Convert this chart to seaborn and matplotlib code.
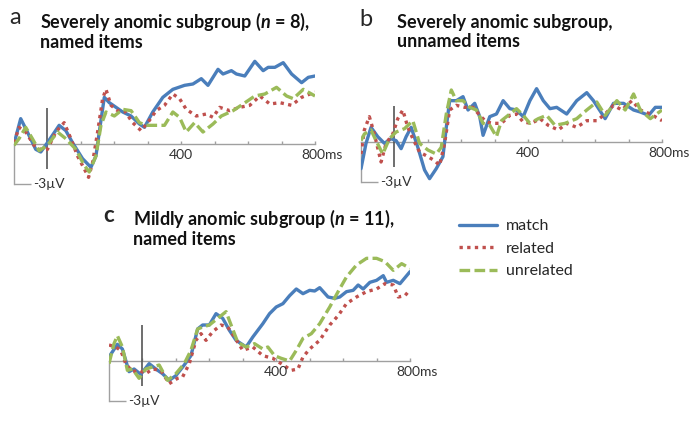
import matplotlib
matplotlib.use("Agg")
import matplotlib.pyplot as plt
import seaborn as sns
import pandas as pd

# ---- data (µV) ----
conditions = ["match", "related", "unrelated"]
palette = {"match": "#4a7ebb", "related": "#c0504d", "unrelated": "#9bbb59"}

# panel a: severely anomic, named items
a_match_t = [-100, -80, -60, -35, -20, 0, 35, 55, 75, 105, 130, 145, 155, 170, 185, 205, 225, 250, 275, 290,
             315, 345, 375, 410, 435, 460, 480, 510, 525, 550, 565, 590, 620, 645, 660, 680, 705, 730, 760, 780, 800]
a_match_v = [0.0, 1.9, 0.9, -0.4, -0.6, 0.1, 1.4, 1.0, 0.1, -1.1, -1.75, -0.9, 0.9, 3.5, 3.1, 2.75, 2.4, 2.1, 1.5, 1.25,
             2.4, 3.5, 4.1, 4.4, 4.5, 4.9, 4.4, 5.6, 5.25, 5.5, 5.25, 5.1, 6.2, 5.5, 5.75, 5.75, 6.1, 5.25, 4.6, 5.0, 5.1]
a_related_t = [-100, -85, -65, -40, -15, 0, 25, 50, 70, 90, 115, 123, 135, 150, 165, 175, 190, 210, 230, 255,
               280, 300, 325, 350, 375, 395, 415, 445, 475, 495, 515, 545, 575, 605, 635, 665, 695, 730, 760, 800]
a_related_v = [0.1, 1.25, 0.9, -0.1, -0.5, -0.4, 0.9, 1.6, 0.4, -0.9, -2.1, -2.5, -1.4, 0.9, 3.4, 4.1, 2.9, 2.5, 2.5, 1.6,
               1.0, 1.6, 2.5, 2.9, 3.75, 3.4, 2.6, 2.1, 2.25, 2.0, 2.75, 2.5, 2.75, 2.9, 3.6, 3.0, 3.1, 2.9, 3.5, 3.9]
a_unrel_t = [-100, -85, -65, -45, -25, 0, 30, 55, 85, 110, 125, 145, 160, 175, 200, 225, 250, 275, 295, 325,
             350, 375, 395, 415, 440, 465, 495, 520, 555, 585, 620, 650, 685, 715, 735, 765, 800]
a_unrel_v = [-0.1, 0.4, 1.25, 0.4, -0.5, -0.1, 0.9, 0.4, -0.4, -1.6, -2.1, -0.9, 1.4, 2.4, 2.1, 2.6, 2.5, 1.6, 1.4, 1.4,
             1.4, 2.4, 2.0, 0.9, 1.6, 0.9, 1.5, 2.1, 2.5, 3.0, 3.6, 3.75, 4.25, 3.6, 3.4, 4.1, 3.6]

# panel b: severely anomic, unnamed items
b_match_t = [-100, -85, -70, -50, -30, -10, 5, 20, 35, 50, 70, 90, 105, 125, 145, 155, 165, 185, 205, 220, 240, 255,
             265, 285, 305, 325, 345, 365, 385, 405, 425, 445, 465, 485, 515, 545, 575, 595, 630, 655, 685, 715,
             735, 760, 780, 800]
b_match_v = [-2.0, -0.1, 1.1, 0.4, -0.1, 0.25, 0.1, -0.5, 0.4, 1.1, -0.4, -2.1, -2.75, -2.0, -1.1, 1.1, 3.1, 3.1, 3.4,
             2.4, 2.9, 1.9, 0.5, 1.9, 2.1, 3.1, 2.5, 2.4, 1.9, 3.1, 4.0, 3.1, 2.5, 2.6, 2.1, 3.1, 3.7, 3.1, 1.75,
             2.9, 2.9, 2.4, 2.25, 2.0, 2.6, 2.6]
b_related_t = [-100, -90, -75, -60, -40, -25, -5, 10, 25, 40, 55, 75, 100, 120, 135, 150, 165, 185, 210, 235, 255,
               275, 295, 320, 345, 365, 385, 410, 435, 460, 490, 515, 545, 575, 605, 630, 655, 680, 710, 735, 765, 800]
b_related_v = [-0.9, 0.9, 1.9, 0.6, -1.5, -0.1, 0.6, 1.75, 2.4, 1.1, 0.25, -0.75, -1.1, -1.4, -1.75, -0.1, 2.4, 2.75,
               2.6, 2.6, 2.0, 1.5, 1.4, 1.4, 2.0, 2.1, 1.5, 1.4, 1.75, 1.25, 0.9, 1.4, 1.1, 1.6, 1.6, 2.1, 2.75, 2.4,
               3.1, 2.4, 2.1, 1.6]
b_unrel_t = [-100, -90, -70, -55, -35, -15, 5, 30, 55, 75, 100, 125, 140, 155, 170, 185, 205, 225, 245, 265, 285,
             305, 320, 340, 365, 385, 405, 430, 455, 480, 510, 545, 575, 605, 630, 665, 690, 715, 735, 765, 800]
b_unrel_v = [0.1, 0.6, 0.9, 0.1, -0.9, 0.25, 0.75, 1.0, 1.6, -0.1, -0.6, -0.9, -0.4, 2.1, 3.9, 3.1, 3.1, 2.6, 2.4, 1.4,
             1.25, 0.4, 1.6, 2.0, 2.5, 2.0, 1.4, 1.75, 2.0, 1.25, 1.4, 1.75, 2.4, 3.0, 2.0, 3.1, 2.4, 3.6, 2.4, 1.75, 2.4]

# panel c: mildly anomic, named items
c_match_t = [-100, -75, -60, -40, -25, -5, 20, 40, 60, 80, 100, 125, 145, 165, 180, 200, 220, 240, 260, 280, 310,
             330, 360, 380, 400, 420, 440, 460, 480, 500, 515, 530, 555, 575, 590, 610, 630, 645, 660, 680, 700,
             720, 730, 750, 770, 790, 800]
c_match_v = [0.3, 1.25, 0.9, -0.8, -0.6, -1.0, -0.2, -0.6, -0.95, -1.45, -1.1, -0.3, 0.4, 2.4, 2.7, 2.7, 3.55, 3.2,
             2.3, 1.55, 1.05, 1.8, 2.8, 3.55, 4.05, 4.3, 4.9, 5.4, 5.05, 5.3, 5.25, 5.5, 4.8, 4.7, 4.8, 5.2, 5.3,
             5.7, 5.4, 5.9, 6.05, 6.4, 5.9, 6.05, 5.8, 6.4, 6.7]
c_related_t = [-100, -80, -65, -50, -30, -10, 10, 30, 55, 80, 105, 120, 140, 160, 175, 190, 210, 235, 255, 275, 300,
               330, 360, 390, 415, 445, 465, 480, 500, 530, 560, 585, 610, 640, 670, 700, 725, 750, 765, 785, 800]
c_related_v = [1.2, 1.05, 0.8, -0.2, -0.8, -0.7, -0.95, -0.6, -0.7, -1.7, -1.3, -1.2, -0.2, 1.55, 2.05, 1.55, 2.2,
               2.7, 2.55, 1.8, 0.8, 1.05, 0.4, 0.2, -0.2, -0.7, -0.6, 0.3, 0.9, 1.55, 2.7, 3.4, 4.3, 4.8, 5.2, 5.4,
               5.8, 5.7, 4.8, 4.9, 5.35]
c_unrel_t = [-100, -85, -75, -60, -45, -30, -10, 10, 30, 50, 75, 100, 125, 145, 165, 180, 200, 225, 250, 265, 285,
             310, 335, 360, 375, 395, 415, 440, 460, 480, 505, 530, 560, 585, 610, 640, 670, 700, 725, 750, 775, 800]
c_unrel_v = [-0.2, 1.3, 1.9, 1.05, -0.7, -0.6, -1.3, -0.6, -0.45, -0.3, -1.45, -0.95, -0.2, 0.8, 2.4, 2.55, 2.7, 3.2,
             3.7, 2.7, 1.4, 1.05, 1.3, 0.9, 1.05, 0.4, 0.2, 0.0, 0.8, 1.7, 2.05, 2.8, 4.05, 5.2, 6.3, 7.2, 7.7, 7.7,
             7.45, 6.8, 7.3, 6.95]

panels = {
    "a": {"match": (a_match_t, a_match_v), "related": (a_related_t, a_related_v),
          "unrelated": (a_unrel_t, a_unrel_v)},
    "b": {"match": (b_match_t, b_match_v), "related": (b_related_t, b_related_v),
          "unrelated": (b_unrel_t, b_unrel_v)},
    "c": {"match": (c_match_t, c_match_v), "related": (c_related_t, c_related_v),
          "unrelated": (c_unrel_t, c_unrel_v)},
}

sns.set_style("white")
plt.rcParams["font.family"] = ["Lato", "DejaVu Sans"]
plt.rcParams["mathtext.fontset"] = "custom"
plt.rcParams["mathtext.it"] = "Lato:italic:bold"
plt.rcParams["mathtext.rm"] = "Lato:bold"

W, H = 700, 424
fig = plt.figure(figsize=(7, 4.24), dpi=100)

PX_PER_UV = 40 / 3
YMIN, YMAX = -4, 8
# left pixel of -100 ms, pixel row of the 0 µV axis
axes_pos = {"a": (14, 144), "b": (361, 142), "c": (109, 361)}
axis_col = "#a0a0a0"
txt_col = "#333333"
dashes = {"match": "", "related": (1, 1.3), "unrelated": (3.2, 1.3)}

handles = labels = None
for key, series in panels.items():
    x0, y0 = axes_pos[key]
    top = y0 - YMAX * PX_PER_UV
    bottom = y0 - YMIN * PX_PER_UV
    ax = fig.add_axes([x0 / W, 1 - bottom / H, 301 / W, (bottom - top) / H])
    ax.patch.set_alpha(0)

    rows = []
    for cond, (t, v) in series.items():
        for ti, vi in zip(t, v):
            rows.append({"time": ti, "amp": vi, "cond": cond})
    df = pd.DataFrame(rows)

    sns.lineplot(data=df, x="time", y="amp", hue="cond", style="cond",
                 hue_order=conditions, style_order=conditions,
                 palette=palette, dashes=dashes, sort=False, estimator=None,
                 linewidth=2.4, ax=ax)
    if handles is None:
        handles, labels = ax.get_legend_handles_labels()
    ax.get_legend().remove()

    ax.set_xlim(-100, 800)
    ax.set_ylim(YMIN, YMAX)
    ax.set_xlabel("")
    ax.set_ylabel("")
    for s in ["top", "right"]:
        ax.spines[s].set_visible(False)
    ax.spines["bottom"].set_position(("data", 0))
    ax.spines["left"].set_position(("data", -100))
    ax.spines["left"].set_bounds(-3, 0)
    for s in ["bottom", "left"]:
        ax.spines[s].set_color(axis_col)
        ax.spines[s].set_linewidth(1.0)
        ax.spines[s].set_zorder(0)
    ax.set_xticks(range(0, 801, 100))
    ax.set_yticks([-3])
    ax.tick_params(axis="x", bottom=True, direction="in", length=2.5, width=1.0,
                   color=axis_col, labelbottom=False)
    ax.tick_params(axis="y", left=True, direction="in", length=12, width=1.0,
                   color=axis_col, labelleft=False)
    ax.vlines(0, -1.9, 2.7, color="#555555", linewidth=1.2, zorder=1)

    ax.text(400, -0.4, "400", ha="center", va="top", fontsize=10, color=txt_col)
    ax.text(758, -0.4, "800ms", ha="left", va="top", fontsize=10, color=txt_col)
    ax.text(-42, -3, "-3µV", ha="left", va="center", fontsize=10, color=txt_col)

# panel letters and titles (pixel positions)
title_kw = dict(fontsize=13, fontweight="bold", va="baseline", ha="left", color="#111111")
fig.text(9 / W, 1 - 24 / H, "a", fontsize=17, va="baseline", ha="left")
fig.text(40 / W, 1 - 28 / H, "Severely anomic subgroup ($n$ = 8),", **title_kw)
fig.text(40 / W, 1 - 48 / H, "named items", **title_kw)

fig.text(359 / W, 1 - 26 / H, "b", fontsize=17, va="baseline", ha="left")
fig.text(397 / W, 1 - 28 / H, "Severely anomic subgroup,", **title_kw)
fig.text(397 / W, 1 - 47 / H, "unnamed items", **title_kw)

fig.text(103 / W, 1 - 222 / H, "c", fontsize=16, fontweight="bold", va="baseline", ha="left")
fig.text(133 / W, 1 - 225 / H, "Mildly anomic subgroup ($n$ = 11),", **title_kw)
fig.text(133 / W, 1 - 245 / H, "named items", **title_kw)

fig.legend(handles, labels, loc="upper left", bbox_to_anchor=(459 / W, 1 - 219 / H),
           frameon=False, fontsize=11.5, handlelength=2.4, handletextpad=0.55,
           labelspacing=0.52, borderpad=0, borderaxespad=0)

fig.savefig("out.png", dpi=100)
